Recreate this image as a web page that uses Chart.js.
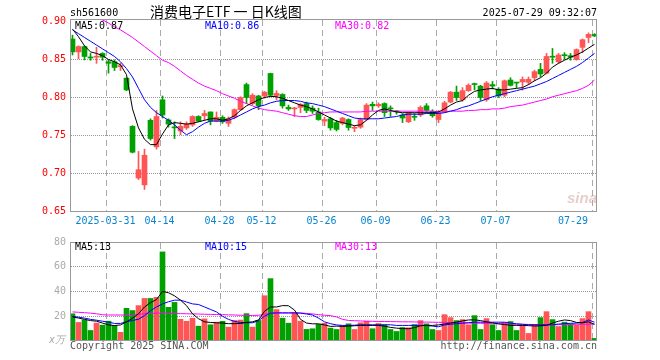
<!DOCTYPE html>
<html>
<head>
<meta charset="utf-8">
<script src="https://cdn.jsdelivr.net/npm/chart.js@4.4.1/dist/chart.umd.min.js"></script>
<style>
body { margin: 0; background: #fff; }
#wrap { position: relative; width: 660px; height: 360px; overflow: hidden; background: #fff;
        font-family: "DejaVu Sans Mono", monospace; font-size: 10px; }
#wrap canvas { position: absolute; left: 0; }
.t { position: absolute; white-space: pre; line-height: 12px; }
</style>
</head>
<body>
<div id="wrap">
  <canvas id="kline" width="660" height="232" style="top:0"></canvas>
  <canvas id="vol" width="660" height="128" style="top:232px"></canvas>

  <div class="t" style="left:70px;top:7px;color:#000">sh561600</div>
  <div class="t" style="left:150px;top:4px;line-height:14px;font-size:14px;font-family:'Noto Sans CJK SC',sans-serif;color:#000">消费电子ETF 一 日K线图</div>
  <div class="t" style="right:63px;top:7px;color:#000">2025-07-29 09:32:07</div>

  <div class="t" style="left:75px;top:20px;color:#000">MA5:0.87</div>
  <div class="t" style="left:205px;top:20px;color:#0000ff">MA10:0.86</div>
  <div class="t" style="left:335px;top:20px;color:#ff00ff">MA30:0.82</div>

  <div class="t" style="left:567px;top:189px;font:italic bold 15px 'Liberation Sans',sans-serif;color:rgba(200,130,130,0.4)">sina</div>

  <div class="t" style="left:75px;top:241px;color:#000">MA5:13</div>
  <div class="t" style="left:205px;top:241px;color:#0000ff">MA10:15</div>
  <div class="t" style="left:335px;top:241px;color:#ff00ff">MA30:13</div>

  <div class="t" style="left:49px;top:334px;font-style:italic;color:#aaa">x万</div>
  <div class="t" style="left:70px;top:340px;color:#555">Copyright 2025 SINA.COM</div>
  <div class="t" style="right:63px;top:340px;color:#555">http://finance.sina.com.cn</div>
</div>

<script>
// trading days shown on the chart
var dates = [
    '2025-03-21', '2025-03-24', '2025-03-25', '2025-03-26', '2025-03-27', '2025-03-28', '2025-03-31',
    '2025-04-01', '2025-04-02', '2025-04-03', '2025-04-07', '2025-04-08', '2025-04-09', '2025-04-10', '2025-04-11',
    '2025-04-14', '2025-04-15', '2025-04-16', '2025-04-17', '2025-04-18', '2025-04-21', '2025-04-22', '2025-04-23',
    '2025-04-24', '2025-04-25', '2025-04-28', '2025-04-29', '2025-04-30',
    '2025-05-06', '2025-05-07', '2025-05-08', '2025-05-09', '2025-05-12', '2025-05-13', '2025-05-14', '2025-05-15',
    '2025-05-16', '2025-05-19', '2025-05-20', '2025-05-21', '2025-05-22', '2025-05-23', '2025-05-26', '2025-05-27',
    '2025-05-28', '2025-05-29', '2025-05-30',
    '2025-06-03', '2025-06-04', '2025-06-05', '2025-06-06', '2025-06-09', '2025-06-10', '2025-06-11', '2025-06-12',
    '2025-06-13', '2025-06-16', '2025-06-17', '2025-06-18', '2025-06-19', '2025-06-20', '2025-06-23', '2025-06-24',
    '2025-06-25', '2025-06-26', '2025-06-27', '2025-06-30',
    '2025-07-01', '2025-07-02', '2025-07-03', '2025-07-04', '2025-07-07', '2025-07-08', '2025-07-09', '2025-07-10',
    '2025-07-11', '2025-07-14', '2025-07-15', '2025-07-16', '2025-07-17', '2025-07-18', '2025-07-21', '2025-07-22',
    '2025-07-23', '2025-07-24', '2025-07-25', '2025-07-28', '2025-07-29'
];

var open = [
    0.877, 0.860, 0.867, 0.853, 0.853, 0.858, 0.847, 0.847, 0.8405, 0.8254,
    0.762, 0.694, 0.685, 0.770, 0.735, 0.797, 0.7705, 0.761, 0.756, 0.760,
    0.764, 0.775, 0.776, 0.781, 0.769, 0.774, 0.766, 0.774, 0.784, 0.817,
    0.792, 0.802, 0.802, 0.8316, 0.8026, 0.804, 0.787, 0.785, 0.787, 0.792,
    0.786, 0.781, 0.769, 0.772, 0.767, 0.766, 0.771, 0.7595, 0.761, 0.771,
    0.791, 0.789, 0.792, 0.786, 0.782, 0.777, 0.768, 0.775, 0.777, 0.789,
    0.782, 0.771, 0.781, 0.794, 0.807, 0.797, 0.809, 0.818, 0.815, 0.797,
    0.817, 0.811, 0.803, 0.823, 0.820, 0.8205, 0.820, 0.826, 0.837, 0.832,
    0.854, 0.847, 0.856, 0.855, 0.850, 0.866, 0.879, 0.883
];
var high = [
    0.882, 0.868, 0.868, 0.858, 0.866, 0.859, 0.8495, 0.8495, 0.845, 0.826,
    0.763, 0.729, 0.732, 0.772, 0.783, 0.802, 0.772, 0.768, 0.768, 0.768,
    0.776, 0.776, 0.783, 0.781, 0.781, 0.776, 0.7745, 0.785, 0.801, 0.819,
    0.805, 0.803, 0.808, 0.832, 0.809, 0.805, 0.790, 0.787, 0.792, 0.794,
    0.789, 0.786, 0.774, 0.774, 0.770, 0.774, 0.772, 0.763, 0.773, 0.792,
    0.794, 0.793, 0.793, 0.789, 0.783, 0.779, 0.781, 0.779, 0.789, 0.792,
    0.784, 0.783, 0.795, 0.808, 0.815, 0.813, 0.818, 0.819, 0.816, 0.821,
    0.821, 0.813, 0.823, 0.826, 0.820, 0.827, 0.827, 0.836, 0.845, 0.858,
    0.8645, 0.858, 0.859, 0.858, 0.864, 0.877, 0.885, 0.884
];
var low = [
    0.856, 0.851, 0.8495, 0.849, 0.845, 0.849, 0.832, 0.8355, 0.8355, 0.809,
    0.727, 0.692, 0.679, 0.744, 0.732, 0.773, 0.761, 0.746, 0.751, 0.758,
    0.762, 0.768, 0.770, 0.764, 0.768, 0.766, 0.762, 0.772, 0.783, 0.792,
    0.790, 0.784, 0.799, 0.801, 0.797, 0.786, 0.783, 0.775, 0.780, 0.780,
    0.779, 0.770, 0.763, 0.757, 0.756, 0.764, 0.757, 0.755, 0.7595, 0.770,
    0.783, 0.787, 0.775, 0.775, 0.778, 0.767, 0.767, 0.770, 0.775, 0.780,
    0.774, 0.767, 0.780, 0.793, 0.796, 0.795, 0.808, 0.810, 0.796, 0.795,
    0.811, 0.800, 0.801, 0.815, 0.813, 0.8096, 0.817, 0.822, 0.827, 0.831,
    0.845, 0.845, 0.850, 0.849, 0.849, 0.859, 0.872, 0.880
];
var close = [
    0.860, 0.867, 0.854, 0.852, 0.854, 0.853, 0.845, 0.8395, 0.842, 0.810,
    0.728, 0.705, 0.724, 0.746, 0.775, 0.777, 0.765, 0.760, 0.762, 0.765,
    0.775, 0.769, 0.779, 0.769, 0.774, 0.768, 0.772, 0.784, 0.800, 0.800,
    0.803, 0.789, 0.807, 0.803, 0.8053, 0.789, 0.785, 0.786, 0.791, 0.783,
    0.782, 0.771, 0.771, 0.760, 0.758, 0.773, 0.7605, 0.7605, 0.771, 0.790,
    0.789, 0.791, 0.780, 0.785, 0.781, 0.773, 0.780, 0.774, 0.787, 0.783,
    0.776, 0.780, 0.793, 0.807, 0.800, 0.809, 0.816, 0.817, 0.800, 0.819,
    0.815, 0.802, 0.822, 0.816, 0.819, 0.8237, 0.824, 0.834, 0.831, 0.854,
    0.853, 0.856, 0.855, 0.853, 0.863, 0.876, 0.883, 0.881
];

// moving average lines as drawn on the picture
var ma5 = [
    0.890, 0.880, 0.868, 0.860, 0.858, 0.855, 0.850, 0.847, 0.843, 0.830,
    0.785, 0.760, 0.745, 0.738, 0.738, 0.752, 0.764, 0.767, 0.766, 0.765,
    0.766, 0.768, 0.770, 0.772, 0.772, 0.770, 0.772, 0.776, 0.783, 0.789,
    0.793, 0.797, 0.800, 0.8015, 0.801, 0.799, 0.796, 0.793, 0.790, 0.788,
    0.785, 0.781, 0.777, 0.773, 0.769, 0.767, 0.765, 0.763, 0.764, 0.770,
    0.777, 0.783, 0.785, 0.783, 0.781, 0.780, 0.780, 0.780, 0.780, 0.780,
    0.780, 0.781, 0.785, 0.790, 0.794, 0.796, 0.803, 0.808, 0.810, 0.811,
    0.812, 0.810, 0.810, 0.811, 0.812, 0.813, 0.817, 0.822, 0.826, 0.832,
    0.840, 0.845, 0.849, 0.853, 0.856, 0.860, 0.865, 0.870
];
var ma10 = [
    0.889, 0.884, 0.879, 0.874, 0.869, 0.864, 0.859, 0.854, 0.847, 0.838,
    0.827, 0.812, 0.797, 0.787, 0.780, 0.775, 0.770, 0.764, 0.757, 0.751,
    0.755, 0.761, 0.766, 0.769, 0.769, 0.769, 0.770, 0.773, 0.777, 0.781,
    0.785, 0.788, 0.790, 0.793, 0.795, 0.796, 0.796, 0.796, 0.795, 0.793,
    0.792, 0.790, 0.788, 0.785, 0.782, 0.779, 0.776, 0.773, 0.772, 0.772,
    0.772, 0.772, 0.773, 0.774, 0.775, 0.777, 0.778, 0.778, 0.778, 0.779,
    0.779, 0.779, 0.780, 0.782, 0.784, 0.787, 0.789, 0.792, 0.795, 0.798,
    0.801, 0.803, 0.805, 0.807, 0.809, 0.811, 0.813, 0.815, 0.818, 0.821,
    0.825, 0.829, 0.833, 0.837, 0.841, 0.846, 0.852, 0.858
];
var ma30 = [
    0.908, 0.907, 0.906, 0.905, 0.905, 0.902, 0.898, 0.893, 0.889, 0.884,
    0.879, 0.873, 0.867, 0.861, 0.855, 0.849, 0.846, 0.841, 0.835, 0.829,
    0.824, 0.819, 0.815, 0.812, 0.809, 0.805, 0.802, 0.799, 0.795, 0.792,
    0.789, 0.786, 0.784, 0.783, 0.782, 0.780, 0.778, 0.776, 0.775, 0.775,
    0.777, 0.779, 0.780, 0.781, 0.781, 0.781, 0.781, 0.781, 0.781, 0.782,
    0.782, 0.782, 0.782, 0.782, 0.782, 0.782, 0.782, 0.782, 0.782, 0.782,
    0.782, 0.781, 0.781, 0.782, 0.782, 0.782, 0.783, 0.783, 0.784, 0.784,
    0.785, 0.785, 0.786, 0.788, 0.789, 0.790, 0.792, 0.794, 0.796, 0.798,
    0.801, 0.803, 0.805, 0.807, 0.809, 0.812, 0.816, 0.823
];

// volume, in 10k shares
var volume = [
    22, 15, 17, 8.5, 14.5, 12.8, 16, 12.3, 7, 26.4,
    24.6, 28.6, 34.4, 34.4, 35.3, 72, 27.2, 31.2, 17.5, 15.9,
    18.4, 12, 17.9, 13.1, 15.2, 15.9, 11.2, 16.6, 16.9, 22.1,
    11.2, 16.6, 36.6, 50.4, 25.4, 18.4, 14.4, 23, 16, 9.4,
    9.9, 13.4, 14.4, 10.4, 9.3, 12.5, 13.9, 9.3, 14.7, 16,
    9.9, 14.1, 13.1, 9.3, 7.7, 10.9, 10.7, 13.3, 16.5, 13.9,
    9.3, 8.5, 21.3, 18.9, 16.5, 17.3, 13.1, 20.5, 9.3, 18.1,
    13.1, 8.5, 14.9, 15.7, 8.5, 12.5, 6.1, 13.1, 18.9, 23.7,
    17.3, 11.7, 15.2, 13.9, 12.8, 18.1, 23.7, 2.1
];
var volMa5 = [
    19.5, 18.5, 17.5, 16.5, 16, 14.5, 13, 12.5, 13, 15.5,
    18.4, 22, 27.5, 31, 33.5, 40, 39, 36.5, 33, 28.6,
    22, 18, 15.5, 15, 14.7, 14.5, 14, 14, 14.2, 15,
    15.5, 17, 24, 27.5, 27.5, 28.6, 28.5, 25, 17.5, 14.5,
    13.9, 13.9, 13, 11.8, 12, 11.8, 12, 12.3, 12.6, 12.6,
    12.6, 12.6, 12, 11, 10.4, 10, 9.9, 10.8, 12.3, 12.6,
    12.6, 13, 13.7, 14.5, 15.2, 16.2, 17, 17.1, 16.5, 15.5,
    14.7, 13.9, 13.3, 12.7, 12.6, 12.6, 12.4, 12.1, 12.3, 12.6,
    14.5, 16, 17, 16.5, 15, 14.7, 15.5, 13.5
];
var volMa10 = [
    19.8, 19.3, 18.5, 17.5, 16.8, 16, 15.2, 14.2, 14.2, 15.5,
    16.6, 17.6, 20.5, 24.5, 27.5, 30, 31.7, 33, 33, 31.5,
    30, 29.5, 27.5, 25.5, 23.5, 20, 17.5, 15.8, 15, 14.8,
    14.7, 16.5, 20, 22.5, 22.7, 22.7, 22.7, 22.7, 22.5, 21.8,
    21, 18.5, 15.5, 14, 13, 12.6, 12.6, 12.8, 13.1, 13.1,
    13.1, 13.1, 13.1, 13.1, 12.6, 12.6, 12.6, 12.6, 12.6, 12.6,
    12, 11.5, 13, 13.5, 14, 14.4, 14.8, 15.2, 15.2, 15.2,
    15.2, 15.2, 15.2, 14.5, 13.9, 13.5, 13.1, 13.1, 13.1, 13.1,
    13.1, 13.7, 14, 14.3, 14.5, 15, 17, 15.2
];
var volMa30 = [
    23.5, 23.2, 22.9, 22.5, 22, 21.2, 21, 21, 21, 21,
    21, 21.5, 22, 22.2, 22.5, 22.7, 22.5, 22.3, 22.1, 22,
    21.9, 21.8, 21.6, 21.5, 21.4, 21.3, 21.1, 21, 20.8, 20.6,
    20.6, 20.8, 21.5, 22.5, 22.7, 22.7, 22.7, 22.7, 22.7, 22.3,
    21.9, 21.3, 20.8, 20.5, 19.5, 17.5, 16.6, 16.4, 16.2, 16,
    15.9, 15.8, 15.7, 15.7, 15.6, 15.5, 15.5, 15.4, 15.3, 15.3,
    15.2, 15.1, 15, 14.9, 14.8, 14.6, 14.5, 14.4, 14.3, 14.2,
    14, 13.9, 13.8, 13.7, 13.6, 13.5, 13.4, 13.3, 13.2, 13.1,
    13.1, 13.2, 13.3, 13.4, 13.5, 13.5, 13.6, 13.6
];

// axis ticks
var tickDates = ['2025-03-31', '2025-04-14', '2025-04-28', '2025-05-12', '2025-05-26',
                 '2025-06-09', '2025-06-23', '2025-07-07', '2025-07-29'];
var tickLabels = ['2025-03-31', '04-14', '04-28', '05-12', '05-26', '06-09', '06-23', '07-07', '07-29'];
var priceTicks = [0.65, 0.70, 0.75, 0.80, 0.85, 0.90];
var volTicks = [20, 40, 60, 80];

var RED = '#ff5555';
var GREEN = '#00a000';
var MONO = 'DejaVu Sans Mono';

// one bar is 6px, bars sit 2.5px right of the frame
var X_MIN = -5 / 12;
var X_MAX = dates.length - 1 + 5 / 12;
var Y_MIN = 0.65 - 0.5 / 760;
var Y_MAX = Y_MIN + 193 / 760;

var upDown = dates.map(function (d, i) { return close[i] >= open[i] ? RED : GREEN; });

function points(arr) {
    return arr.map(function (v, i) { return { x: i, y: v }; });
}
function fixWidth(w) { return function (s) { s.width = w; }; }
function fixHeight(h) { return function (s) { s.height = h; }; }

function gridTicks(scale) {
    scale.ticks = tickDates.map(function (d) { return { value: dates.indexOf(d) - 1 / 3 }; });
}
function labelTicks(scale) {
    scale.ticks = tickDates.map(function (d) {
        return { value: Math.min(dates.indexOf(d) - 0.5, X_MAX - 4) };
    });
}

function areaBox(chart) {
    var a = chart.chartArea;
    return { top: Math.round(a.top), bottom: Math.round(a.bottom),
             left: Math.round(a.left), right: Math.round(a.right) };
}

// dashed date lines and dotted value lines (drawn as small rects), grey frame on top
var gridPlugin = {
    id: 'sinaGrid',
    beforeDatasetsDraw: function (chart) {
        var b = areaBox(chart);
        var ctx = chart.ctx;
        var xs = chart.scales.x;
        var ys = chart.scales.y;
        ctx.save();
        ctx.fillStyle = '#aaa';
        xs.ticks.forEach(function (t) {
            var px = Math.round(xs.getPixelForValue(t.value) - 0.5);
            for (var y = b.top + 1; y < b.bottom - 1; y += 10) {
                ctx.fillRect(px, y, 1, Math.min(6, b.bottom - 1 - y));
            }
        });
        ctx.fillStyle = '#999';
        ys.ticks.forEach(function (t) {
            var py = Math.round(ys.getPixelForValue(t.value) - 0.5);
            if (py < b.top + 3 || py > b.bottom - 3) return;
            for (var x = b.left + 1; x < b.right - 1; x += 2) {
                ctx.fillRect(x, py, 1, 1);
            }
        });
        ctx.restore();
    },
    afterDatasetsDraw: function (chart) {
        var b = areaBox(chart);
        var ctx = chart.ctx;
        ctx.save();
        ctx.strokeStyle = '#999';
        ctx.lineWidth = 1;
        ctx.strokeRect(b.left + 0.5, b.top + 0.5, b.right - b.left - 1, b.bottom - b.top - 1);
        ctx.restore();
    }
};

function xGrid() {
    return {
        type: 'linear', min: X_MIN, max: X_MAX, offset: false,
        afterBuildTicks: gridTicks, afterFit: fixHeight(0),
        ticks: { display: false },
        grid: { display: false, offset: false },
        border: { display: false }
    };
}

function lineSet(data, color) {
    return {
        type: 'line', data: points(data), borderColor: color, borderWidth: 1,
        pointRadius: 0, tension: 0, order: 0
    };
}

var common = {
    responsive: false,
    animation: false,
    devicePixelRatio: 1,
    events: [],
    plugins: { legend: { display: false }, tooltip: { enabled: false } }
};

// price panel
new Chart(document.getElementById('kline').getContext('2d'), {
    type: 'bar',
    data: {
        datasets: [
            lineSet(ma5, '#000000'),
            lineSet(ma10, '#0000ff'),
            lineSet(ma30, '#ff00ff'),
            {
                data: dates.map(function (d, i) { return { x: i, y: [open[i], close[i]] }; }),
                backgroundColor: upDown, barThickness: 5, grouped: false, minBarLength: 1, order: 1
            },
            {
                data: dates.map(function (d, i) { return { x: i, y: [low[i], high[i]] }; }),
                backgroundColor: upDown, barThickness: 1, grouped: false, order: 2
            }
        ]
    },
    options: Object.assign({}, common, {
        layout: { padding: { top: 19, right: 63, bottom: 0, left: 0 } },
        scales: {
            x: xGrid(),
            xl: {
                type: 'linear', position: 'bottom', min: X_MIN, max: X_MAX, offset: false,
                afterBuildTicks: labelTicks, afterFit: fixHeight(20),
                ticks: {
                    color: '#0a84d0', font: { family: MONO, size: 10 }, padding: 3,
                    maxRotation: 0, autoSkip: false,
                    callback: function (v, i) { return tickLabels[i]; }
                },
                grid: { display: false, drawTicks: false },
                border: { display: false }
            },
            y: {
                min: Y_MIN, max: Y_MAX,
                afterBuildTicks: function (s) {
                    s.ticks = priceTicks.map(function (v) { return { value: v }; });
                },
                afterFit: fixWidth(70),
                ticks: {
                    color: '#ff0000', font: { family: MONO, size: 10 }, padding: 4,
                    callback: function (v) { return v.toFixed(2); }
                },
                grid: { display: false, drawTicks: false },
                border: { display: false }
            }
        }
    }),
    plugins: [gridPlugin]
});

// volume panel
new Chart(document.getElementById('vol').getContext('2d'), {
    type: 'bar',
    data: {
        datasets: [
            lineSet(volMa5, '#000000'),
            lineSet(volMa10, '#0000ff'),
            lineSet(volMa30, '#ff00ff'),
            {
                data: points(volume),
                backgroundColor: upDown, barThickness: 5, grouped: false, order: 1
            }
        ]
    },
    options: Object.assign({}, common, {
        layout: { padding: { top: 8, right: 63, bottom: 19, left: 0 } },
        scales: {
            x: xGrid(),
            y: {
                min: 0, max: 80,
                afterBuildTicks: function (s) {
                    s.ticks = volTicks.map(function (v) { return { value: v }; });
                },
                afterFit: fixWidth(70),
                ticks: { color: '#aaa', font: { family: MONO, size: 10 }, padding: 4 },
                grid: { display: false, drawTicks: false },
                border: { display: false }
            }
        }
    }),
    plugins: [gridPlugin]
});
</script>
</body>
</html>
